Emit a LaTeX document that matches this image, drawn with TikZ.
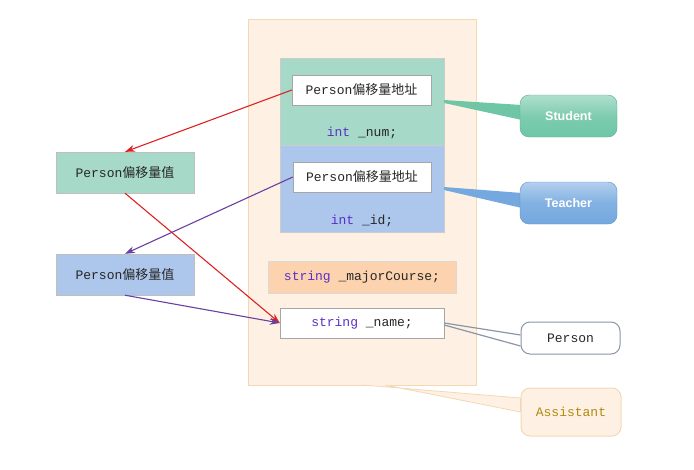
\documentclass[tikz,border=0pt]{standalone}
\usepackage{fontspec}
\setmonofont{Liberation Mono}
\setsansfont{Liberation Sans}
\newfontfamily\cjk{Noto Sans CJK SC}
\usetikzlibrary{arrows.meta,positioning}
\definecolor{objfill}{HTML}{FEF1E4}
\definecolor{objline}{HTML}{F3D8B5}
\definecolor{stufill}{HTML}{A6D9C7}
\definecolor{teafill}{HTML}{ADC6EB}
\definecolor{majfill}{HTML}{FCD3AE}
\definecolor{stucall}{HTML}{6FC6A7}
\definecolor{teacall}{HTML}{74A8DF}
\definecolor{kw}{HTML}{5A2FC8}
\definecolor{redptr}{HTML}{DD2222}
\definecolor{purptr}{HTML}{6A3FA0}
\definecolor{asstxt}{HTML}{B08A10}
\definecolor{perline}{HTML}{8A96A8}
\newcommand{\cn}[1]{{\cjk #1}}
\begin{document}
\begin{tikzpicture}[
  x=1pt,y=-1pt,
  >={Stealth[length=10pt,width=7pt]},
  code/.style={font=\ttfamily\fontsize{13}{15}\selectfont,text=black!85,inner sep=0pt},
  field/.style={code,draw=black!35,fill=white,minimum width=#1,minimum height=30pt},
  block/.style={draw=black!20,minimum width=164pt,minimum height=87pt},
  val/.style={code,draw=black!25,minimum width=138pt,minimum height=41pt},
  callout/.style={rounded corners=9pt,minimum width=97pt,minimum height=42pt,inner sep=0pt},
  glossy/.style={callout,top color=#1!55!white,bottom color=#1,middle color=#1!90!white,draw=#1!85!black,
    font=\sffamily\bfseries\fontsize{12.5}{14}\selectfont,text=white},
  ptr/.style={->,line width=1.1pt}
]
\useasboundingbox (0,0) rectangle (694,469);
% object layout
\node[draw=objline,fill=objfill,minimum width=228pt,minimum height=366pt] (obj) at (362,202) {};
\node[block,fill=stufill] (stu) at (362,101.5) {};
\node[block,fill=teafill] (tea) at (362,188.5) {};
\node[field=139pt] (stuaddr) at (361.5,90) {Person\cn{偏移量地址}};
\node[field=138pt] (teaaddr) at (362,177) {Person\cn{偏移量地址}};
\node[code] (num) at (362,133) {{\color{kw}int} \_num;};
\node[code] (id) at (362,221) {{\color{kw}int} \_id;};
\node[code,draw=black!15,fill=majfill,minimum width=188pt,minimum height=32pt] (major) at (362,277) {{\color{kw}string} \_majorCourse;};
\node[field=164pt] (name) at (362,323) {{\color{kw}string} \_name;};
% offset values
\node[val,fill=stufill] (stuval) at (125,172.5) {Person\cn{偏移量值}};
\node[val,fill=teafill] (teaval) at (125,274.5) {Person\cn{偏移量值}};
\draw[ptr,redptr] (stuaddr.west) -- (stuval.north);
\draw[ptr,redptr] (stuval.south) -- (name.west);
\draw[ptr,purptr] (teaaddr.west) -- (teaval.north);
\draw[ptr,purptr] (teaval.south) -- (name.west);
% callouts
\fill[stucall] (444,100) -- (522,105) -- (522,120) -- (444,103) -- cycle;
\fill[teacall] (444,187) -- (522,193) -- (522,208) -- (444,190) -- cycle;
\node[glossy=stucall] (stulab) at (568.5,116) {Student};
\node[glossy=teacall] (tealab) at (568.5,203) {Teacher};
\node[callout,draw=perline,line width=1pt,fill=white,code,minimum width=99pt,minimum height=32pt] (perlab) at (570.5,338) {Person};
\node[callout,draw=objline,line width=1pt,fill=objfill,code,text=asstxt,minimum width=100pt,minimum height=48pt] (asslab) at (571,412) {Assistant};
\draw[perline,line width=1.2pt] (name.east) -- ([yshift=3pt]perlab.west);
\draw[perline,line width=1.2pt] ([yshift=-2pt]name.east) -- ([yshift=-8pt]perlab.west);
\draw[objline,fill=objfill,line width=0.8pt] (363,385) -- ([yshift=14pt]asslab.west) -- ([yshift=0pt]asslab.west) -- (385,385);
\end{tikzpicture}
\end{document}
